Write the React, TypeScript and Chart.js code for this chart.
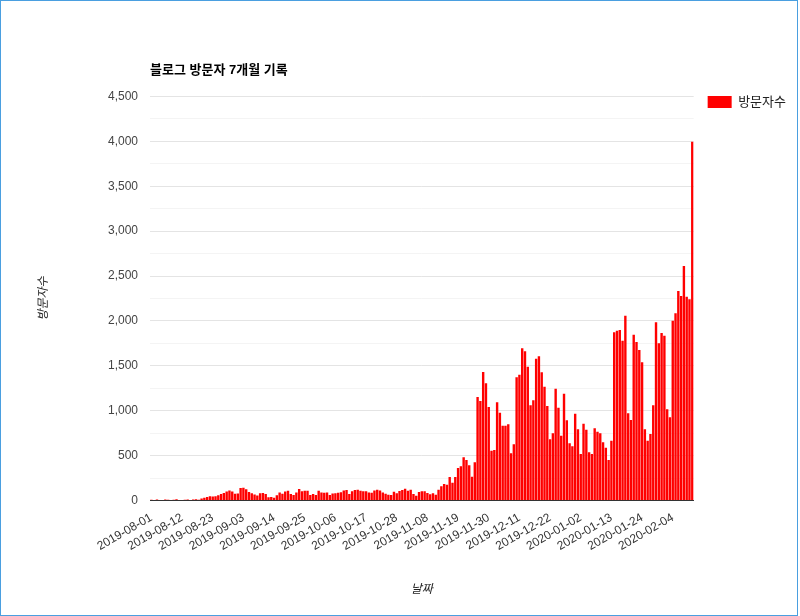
import React, { useEffect, useRef } from "react";
import { Chart, registerables } from "chart.js";

Chart.register(...registerables);

// ---- data ----
const START_DATE = "2019-08-01";
const TICK_EVERY = 11;
const TITLE = "블로그 방문자 7개월 기록";
const SERIES_LABEL = "방문자수";
const X_TITLE = "날짜";
const Y_TITLE = "방문자수";
const Y_MAX = 4500;
const Y_STEP = 250;
const Y_LABEL_STEP = 500;

const VISITS_AUG = [8, 5, 12, 6, 4, 10, 7, 5, 9, 14, 6, 5, 8, 12, 6, 10, 15, 8, 22, 30, 40, 48, 45, 48, 58, 72, 84, 100, 110, 100, 75];
const VISITS_SEP = [78, 140, 142, 125, 95, 80, 68, 55, 80, 84, 72, 36, 40, 30, 58, 88, 76, 100, 108, 72, 60, 88, 127, 104, 108, 108, 62, 72, 60, 108];
const VISITS_OCT = [90, 86, 90, 60, 78, 80, 86, 93, 112, 116, 72, 104, 116, 119, 108, 104, 104, 90, 86, 112, 119, 112, 90, 75, 63, 60, 97, 80, 106, 117, 132];
const VISITS_NOV = [109, 120, 72, 54, 95, 102, 102, 84, 69, 80, 65, 120, 158, 184, 176, 262, 198, 262, 362, 381, 481, 451, 392, 265, 425, 1153, 1108, 1431, 1305, 1041];
const VISITS_DEC = [555, 562, 1094, 978, 833, 833, 849, 526, 626, 1372, 1401, 1696, 1662, 1491, 1061, 1116, 1580, 1606, 1428, 1268, 1053, 682, 749, 1246, 1034, 722, 1190, 893, 637, 604, 967];
const VISITS_JAN = [793, 518, 856, 789, 537, 518, 804, 766, 748, 648, 588, 451, 666, 1874, 1892, 1900, 1780, 2059, 971, 897, 1847, 1766, 1677, 1540, 793, 666, 741, 1061, 1985, 1751, 1866];
const VISITS_FEB = [1836, 1016, 927, 2003, 2085, 2334, 2278, 2612, 2270, 2241, 3997];

const VISITS = [...VISITS_AUG, ...VISITS_SEP, ...VISITS_OCT, ...VISITS_NOV, ...VISITS_DEC, ...VISITS_JAN, ...VISITS_FEB];

function buildDates(start: string, count: number): string[] {
  const out: string[] = [];
  const d = new Date(start + "T00:00:00Z");
  for (let i = 0; i < count; i++) {
    const y = d.getUTCFullYear();
    const m = String(d.getUTCMonth() + 1).padStart(2, "0");
    const day = String(d.getUTCDate()).padStart(2, "0");
    out.push(`${y}-${m}-${day}`);
    d.setUTCDate(d.getUTCDate() + 1);
  }
  return out;
}
const DATES = buildDates(START_DATE, VISITS.length);

const FONT = "'Liberation Sans', Arial, 'Noto Sans CJK KR', sans-serif";

export default function App() {
  const ref = useRef<HTMLCanvasElement>(null);
  useEffect(() => {
    const chart = new Chart(ref.current as HTMLCanvasElement, {
      type: "bar",
      data: {
        labels: DATES,
        datasets: [
          {
            label: SERIES_LABEL,
            data: VISITS,
            backgroundColor: "#ff0000",
            borderWidth: 0,
            barPercentage: 0.86,
            categoryPercentage: 1,
          },
        ],
      },
      options: {
        animation: false,
        responsive: false,
        layout: { padding: { top: 0, left: 0, right: 4, bottom: 0 } },
        plugins: {
          title: {
            display: true,
            text: TITLE,
            align: "start",
            fullSize: false,
            color: "#000",
            font: { family: FONT, size: 13, weight: "bold" },
            padding: { top: 62.7, bottom: 18.2 },
          },
          legend: {
            position: "right",
            align: "start",
            title: { display: true, text: "", padding: { top: 67.1, bottom: 0 }, font: { size: 12 } },
            labels: {
              boxWidth: 24,
              boxHeight: 12,
              padding: 14,
              color: "#222",
              font: { family: FONT, size: 13 },
            },
          },
          tooltip: { enabled: false },
        },
        scales: {
          x: {
            grid: { display: false },
            border: { display: true, color: "#333", width: 1, z: 1 },
            ticks: {
              autoSkip: false,
              maxRotation: 30,
              minRotation: 30,
              padding: 2,
              color: "#333",
              font: { family: FONT, size: 12 },
              callback: (_v: any, i: number) => (i % TICK_EVERY === 0 ? DATES[i] : ""),
            },
            title: {
              display: true,
              text: X_TITLE,
              color: "#222",
              font: { family: FONT, size: 12, style: "italic" },
              padding: { top: 0, bottom: 18.8 },
            },
            afterFit: (s: any) => {
              s.height = 115.5;
            },
          },
          y: {
            min: 0,
            max: Y_MAX,
            ticks: {
              stepSize: Y_STEP,
              autoSkip: false,
              padding: 12,
              color: "#444",
              font: { family: FONT, size: 12 },
              callback: (v: any) => (Number(v) % Y_LABEL_STEP === 0 ? Number(v).toLocaleString("en-US") : ""),
            },
            grid: {
              drawTicks: false,
              color: (c: any) => (c.tick && c.tick.value % Y_LABEL_STEP === 0 ? "#e4e4e4" : "#f4f4f4"),
            },
            border: { display: false },
            title: {
              display: true,
              text: Y_TITLE,
              color: "#222",
              font: { family: FONT, size: 12, style: "italic" },
              padding: { top: 36.3, bottom: 0 },
            },
            afterFit: (s: any) => {
              s.width = 150;
            },
          },
        },
      },
    } as any);
    return () => chart.destroy();
  }, []);

  return (
    <div style={{ position: "absolute", left: 0, top: 0, width: 800, height: 616, background: "#fff" }}>
      <canvas ref={ref} width={800} height={616} style={{ display: "block" }} />
      <div
        style={{
          position: "absolute",
          left: 0,
          top: 0,
          width: 798,
          height: 616,
          border: "1px solid #4a9fe0",
          boxSizing: "border-box",
          pointerEvents: "none",
        }}
      />
    </div>
  );
}
